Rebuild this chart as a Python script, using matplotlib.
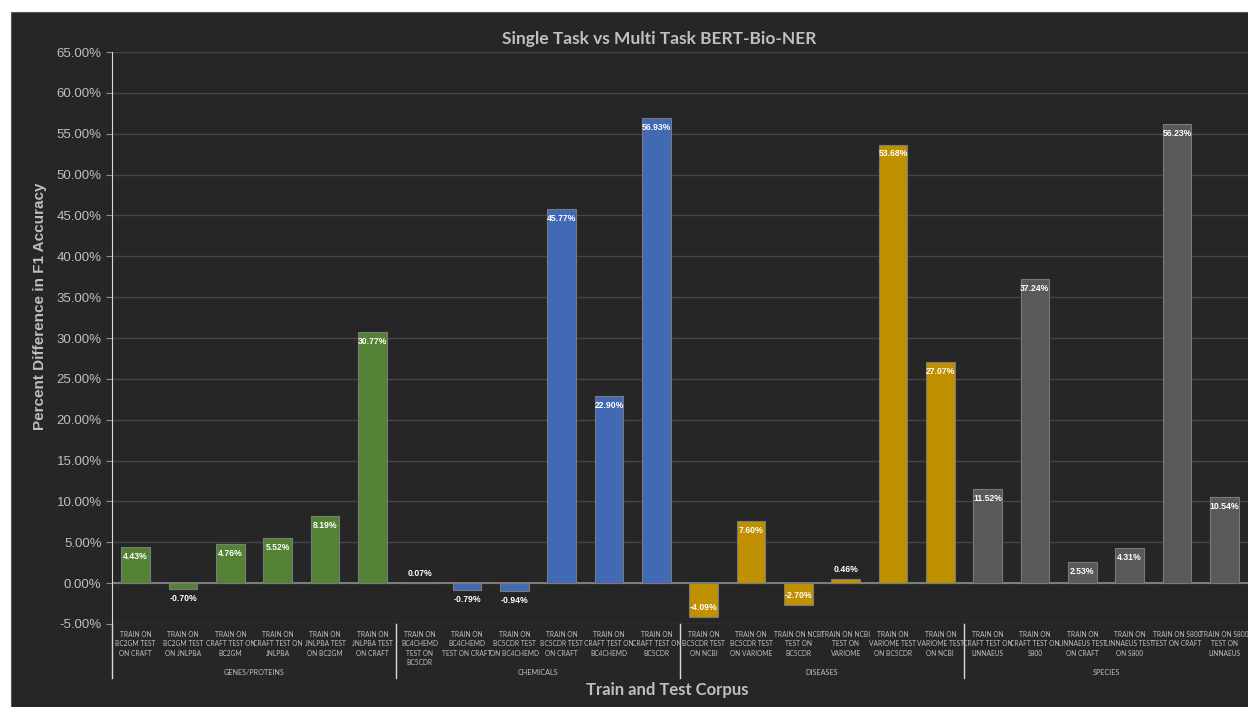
import numpy as np
import matplotlib.pyplot as plt
from matplotlib.lines import Line2D
from matplotlib.patches import Rectangle
from matplotlib.ticker import FuncFormatter, MultipleLocator

# Данные
groups = ["GENES/PROTEINS", "CHEMICALS", "DISEASES", "SPECIES"]
labels = [
    "TRAIN ON\nBC2GM TEST\nON CRAFT", "TRAIN ON\nBC2GM TEST\nON JNLPBA",
    "TRAIN ON\nCRAFT TEST ON\nBC2GM", "TRAIN ON\nCRAFT TEST ON\nJNLPBA",
    "TRAIN ON\nJNLPBA TEST\nON BC2GM", "TRAIN ON\nJNLPBA TEST\nON CRAFT",
    "TRAIN ON\nBC4CHEMD\nTEST ON\nBC5CDR", "TRAIN ON\nBC4CHEMD\nTEST ON CRAFT",
    "TRAIN ON\nBC5CDR TEST\nON BC4CHEMD", "TRAIN ON\nBC5CDR TEST\nON CRAFT",
    "TRAIN ON\nCRAFT TEST ON\nBC4CHEMD", "TRAIN ON\nCRAFT TEST ON\nBC5CDR",
    "TRAIN ON\nBC5CDR TEST\nON NCBI", "TRAIN ON\nBC5CDR TEST\nON VARIOME",
    "TRAIN ON NCBI\nTEST ON\nBC5CDR", "TRAIN ON NCBI\nTEST ON\nVARIOME",
    "TRAIN ON\nVARIOME TEST\nON BC5CDR", "TRAIN ON\nVARIOME TEST\nON NCBI",
    "TRAIN ON\nCRAFT TEST ON\nLINNAEUS", "TRAIN ON\nCRAFT TEST ON\nS800",
    "TRAIN ON\nLINNAEUS TEST\nON CRAFT", "TRAIN ON\nLINNAEUS TEST\nON S800",
    "TRAIN ON S800\nTEST ON CRAFT", "TRAIN ON S800\nTEST ON\nLINNAEUS",
]
genes = [4.43, -0.70, 4.76, 5.52, 8.19, 30.77]
chemicals = [0.07, -0.79, -0.94, 45.77, 22.90, 56.93]
diseases = [-4.09, 7.60, -2.70, 0.46, 53.68, 27.07]
species = [11.52, 37.24, 2.53, 4.31, 56.23, 10.54]
colors = ["#548235", "#4169b4", "#bf9000", "#595959"]

bg = "#262626"
txt = "#bfbfbf"

fig = plt.figure(figsize=(12.48, 7.07), dpi=100, facecolor="white")
fig.patches.append(Rectangle((11 / 1248, 0), 1, 1 - 12 / 707, transform=fig.transFigure,
                             facecolor=bg, edgecolor="#555555", lw=0.8, zorder=-10))
ax = fig.add_axes([112 / 1248, 1 - 624 / 707, 1 - 112 / 1248, (624 - 52) / 707])
ax.set_facecolor(bg)

values = genes + chemicals + diseases + species
bar_colors = []
for g, vals in enumerate([genes, chemicals, diseases, species]):
    bar_colors += [colors[g]] * len(vals)
x = np.arange(len(values))

ax.bar(x, values, width=0.61, color=bar_colors, edgecolor="#7a7a7a", linewidth=0.8, zorder=3)
for xi, v in zip(x, values):
    if abs(v) < 1.5:
        y = v + (0.6 if v >= 0 else -0.6)
        va = "bottom" if v >= 0 else "top"
    else:
        y = v - (0.6 if v >= 0 else -0.6)
        va = "top" if v >= 0 else "bottom"
    ax.text(xi, y, f"{v:.2f}%", ha="center", va=va, color="white", fontsize=6.2,
            fontweight="bold", family="Liberation Sans", zorder=4)

ax.set_xlim(-0.5, len(values) - 0.5)
ax.set_ylim(-5, 65)
ax.yaxis.set_major_locator(MultipleLocator(5))
ax.yaxis.set_major_formatter(FuncFormatter(lambda v, p: f"{v:.2f}%"))
ax.tick_params(axis="y", colors="#8c8c8c", labelcolor=txt, labelsize=9.5, length=4, width=0.8)
for lab in ax.get_yticklabels():
    lab.set_family("Liberation Sans")
ax.set_xticks([])
ax.grid(axis="y", color="#454545", linewidth=1, zorder=0)
for s in ["top", "right", "bottom"]:
    ax.spines[s].set_visible(False)
ax.spines["left"].set_color("#d9d9d9")
ax.axhline(0, color="#8c8c8c", linewidth=1.2, zorder=2)

# Подписи категорий
tr = ax.get_xaxis_transform()
for xi, lab in zip(x, labels):
    ax.text(xi, -0.012, lab, transform=tr, ha="center", va="top", fontsize=4.8,
            color=txt, family="Lato", linespacing=1.4, clip_on=False)
for g, name in enumerate(groups):
    ax.text(g * 6 + 2.5, -0.085, name, transform=tr, ha="center", va="center",
            fontsize=5.2, color=txt, family="Lato", clip_on=False)
for b in [-0.5, 5.5, 11.5, 17.5]:
    ax.add_line(Line2D([b, b], [0, -0.095], transform=tr, color="#d9d9d9",
                       linewidth=1, clip_on=False))

ax.set_xlabel("Train and Test Corpus", fontsize=12, fontweight="bold", color=txt,
              family="Lato")
ax.xaxis.set_label_coords(0.4886, -0.101)
ax.set_ylabel("Percent Difference in F1 Accuracy", fontsize=11, fontweight="bold",
              color=txt, family="Liberation Sans")
ax.yaxis.set_label_coords(-0.057, 0.556)
ax.set_title("Single Task vs Multi Task BERT-Bio-NER", fontsize=12.5, fontweight="bold",
             color=txt, family="Lato", pad=6, x=0.482)

plt.savefig("out.png", dpi=100, facecolor=fig.get_facecolor())
